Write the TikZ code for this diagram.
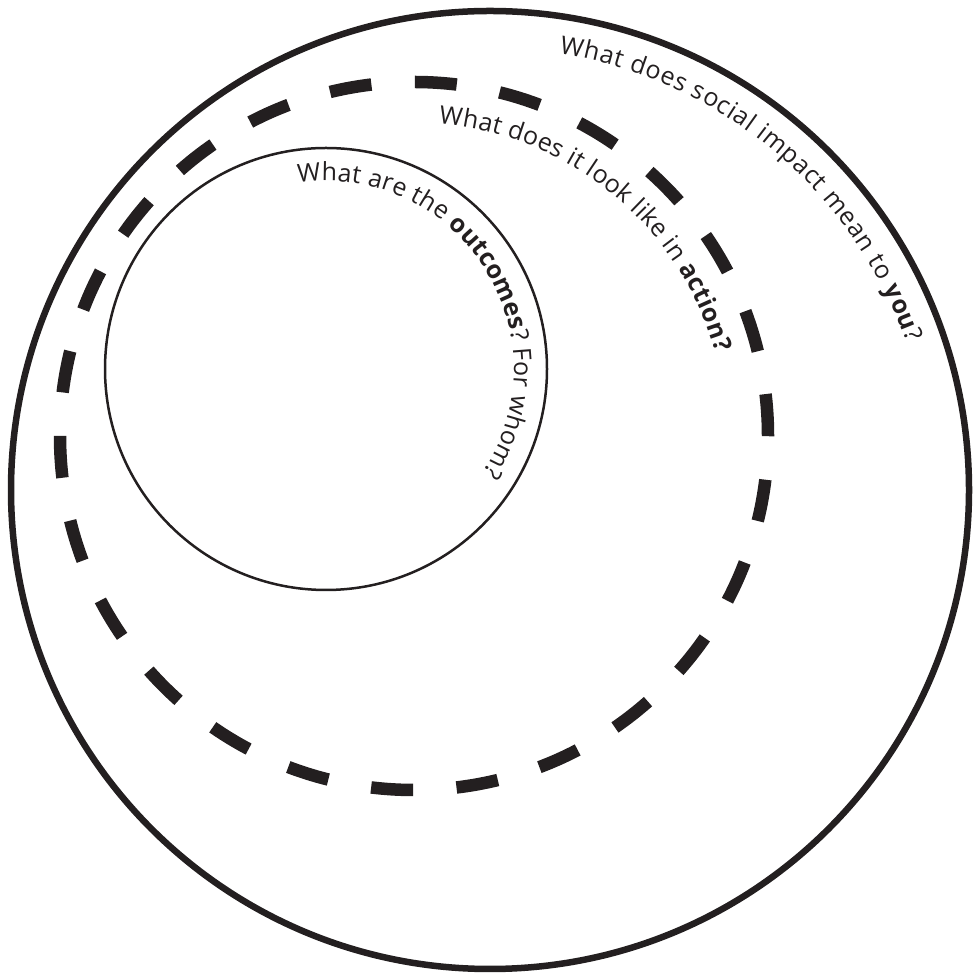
\documentclass[tikz,border=0pt]{standalone}
\usepackage{fontspec}
\setmainfont{Open Sans}
\usepackage{xcolor}
\usetikzlibrary{decorations.text}
\definecolor{ink}{HTML}{231F20}
\newcommand\ringfont{\fontsize{25}{30}\selectfont\color{ink}}

\begin{document}
\begin{tikzpicture}[
    x=1pt, y=1pt,
    outerring/.style={draw=ink, line width=6.5pt},
    dashring/.style={draw=ink, line width=12.5pt, dash pattern=on 42pt off 43.55pt},
    innerring/.style={draw=ink, line width=2.5pt},
    ringtext/.style={decorate, decoration={text along path, text align=fit to path, text={#1}}},
  ]
  \useasboundingbox (0,0) rectangle (972,974);

  % Centres
  \coordinate (outerc) at (490,484);
  \coordinate (dashc) at (414,538);
  \coordinate (innerc) at (326,605);

  % Rings
  \draw[outerring] (outerc) circle[radius=479];
  \draw[dashring] (dashc) circle[radius=354];
  \draw[innerring] (innerc) circle[radius=221];

  % Questions
  \path[ringtext={|\ringfont|What does social impact mean to |\ringfont\bfseries|you|\ringfont\mdseries|?}]
    ([shift={(81:442)}]outerc) arc[start angle=81, end angle=19.5, radius=442];
  \path[ringtext={|\ringfont|What does it look like in |\ringfont\bfseries|action?}]
    ([shift={(85.5:313)}]dashc) arc[start angle=85.5, end angle=15.5, radius=313];
  \path[ringtext={|\ringfont|What are the |\ringfont\bfseries|outcomes|\ringfont\mdseries|? For whom?}]
    ([shift={(98.5:188)}]innerc) arc[start angle=98.5, end angle=-33.5, radius=188];
\end{tikzpicture}
\end{document}
